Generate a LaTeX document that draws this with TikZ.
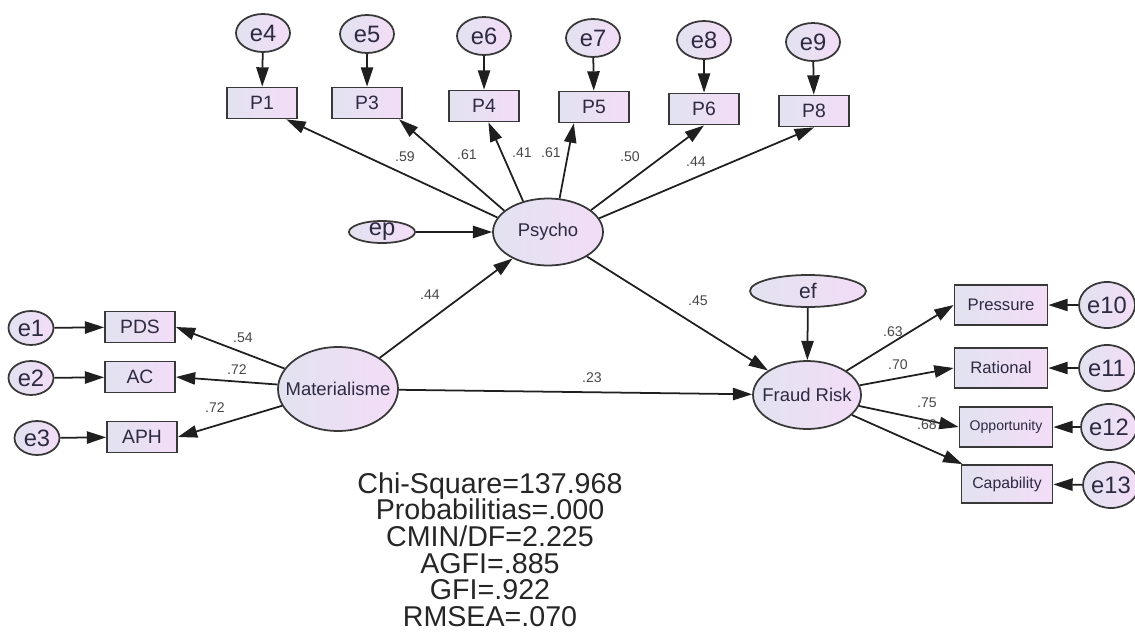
\documentclass[tikz,border=0pt]{standalone}
\usepackage{fontspec}
\newfontfamily\arial{Liberation Sans}
\usetikzlibrary{arrows.meta,shapes.geometric}
\definecolor{latL}{RGB}{226,226,240}
\definecolor{latR}{RGB}{243,221,247}
\definecolor{txt}{RGB}{45,42,65}
\begin{document}
\begin{tikzpicture}[x=0.02cm,y=-0.02cm,
  every node/.style={font=\arial},
  lat/.style={ellipse, draw=black!78, line width=1pt, left color=latL, right color=latR, inner sep=0pt},
  obs/.style={rectangle, draw=black!78, line width=1pt, left color=latL, right color=latR,
    minimum width=1.4cm, minimum height=0.62cm, inner sep=0pt, text=txt,
    font=\arial\fontsize{11}{12}\selectfont},
  obsr/.style={obs, minimum width=1.86cm, minimum height=0.8cm},
  err/.style={lat, minimum width=1.08cm, minimum height=0.76cm},
  errs/.style={lat, minimum width=0.9cm, minimum height=0.68cm},
  errr/.style={lat, minimum width=1.12cm, minimum height=0.92cm},
  etxt/.style={font=\arial\fontsize{13.5}{14}\selectfont, text=txt, inner sep=0pt},
  ltxt/.style={font=\arial\fontsize{10.5}{12}\selectfont, text=txt, inner sep=0pt},
  arr/.style={draw=black!88, line width=1pt, -{Triangle[length=11pt,width=7pt]}},
  coef/.style={font=\arial\fontsize{8}{9}\selectfont, text=black!72, inner sep=0pt},
]
\useasboundingbox (0,0) rectangle (1135,635);

% error terms top
\node[err, label={[etxt]center:e4}] (e4) at (263,33) {};
\node[err, label={[etxt]center:e5}] (e5) at (367,34) {};
\node[err, label={[etxt]center:e6}] (e6) at (484,36) {};
\node[err, label={[etxt]center:e7}] (e7) at (593,38) {};
\node[err, label={[etxt]center:e8}] (e8) at (704,40) {};
\node[err, label={[etxt]center:e9}] (e9) at (813,42) {};

% P indicators
\node[obs] (P1) at (262,103) {P1};
\node[obs] (P3) at (367,103) {P3};
\node[obs] (P4) at (484,106) {P4};
\node[obs] (P5) at (594,107) {P5};
\node[obs] (P6) at (704,109) {P6};
\node[obs] (P8) at (814,111) {P8};

% latent
\node[lat, minimum width=2.2cm, minimum height=1.34cm, label={[ltxt]center:Psycho}] (Psy) at (548,232) {};
\node[lat, minimum width=1.32cm, minimum height=0.44cm, label={[etxt]center:ep}] (ep) at (382,232) {};
\node[lat, minimum width=2.4cm, minimum height=1.68cm, label={[ltxt]center:Materialisme}] (Mat) at (338,389) {};
\node[lat, minimum width=2.16cm, minimum height=1.36cm, label={[ltxt]center:Fraud Risk}] (FR) at (807,395) {};
\node[lat, minimum width=2.32cm, minimum height=0.64cm, label={[font=\arial\fontsize{12}{13}\selectfont,text=txt]center:ef}] (ef) at (808,291) {};

% left indicators
\node[obs] (PDS) at (140,327) {PDS};
\node[obs] (AC) at (140,377) {AC};
\node[obs] (APH) at (142,437) {APH};
\node[errs, label={[etxt]center:e1}] (e1) at (31,328) {};
\node[errs, label={[etxt]center:e2}] (e2) at (31,378) {};
\node[errs, label={[etxt]center:e3}] (e3) at (37,438) {};

% right indicators
\node[obsr, font=\arial\fontsize{9.5}{11}\selectfont] (Pre) at (1001,305) {Pressure};
\node[obsr, font=\arial\fontsize{9.5}{11}\selectfont] (Rat) at (1001,368) {Rational};
\node[obsr, font=\arial\fontsize{8}{10}\selectfont] (Opp) at (1006,427) {Opportunity};
\node[obsr, minimum width=1.82cm, minimum height=0.76cm, font=\arial\fontsize{9}{10}\selectfont] (Cap) at (1007,484) {Capability};
\node[errr, label={[etxt]center:e10}] (e10) at (1107,305) {};
\node[errr, label={[etxt]center:e11}] (e11) at (1107,368) {};
\node[errr, label={[etxt]center:e12}] (e12) at (1109,427) {};
\node[errr, label={[etxt]center:e13}] (e13) at (1111,485) {};

% arrows
\foreach \e/\p in {e4/P1,e5/P3,e6/P4,e7/P5,e8/P6,e9/P8} \draw[arr] (\e) -- (\p);
\draw[arr] (Psy.164) -- (P1.-34);
\draw[arr] (Psy.154) -- (P3.-27);
\draw[arr] (Psy.129) -- (P4.-75);
\draw[arr] (Psy.71) -- (P5.-141);
\draw[arr] (Psy.27) -- (P6.south);
\draw[arr] (Psy.15) -- (P8.south);
\draw[arr] (ep) -- (Psy);
\draw[arr] (Mat) -- (Psy);
\draw[arr] (Psy) -- (FR);
\draw[arr] (Mat) -- (FR);
\draw[arr] (ef) -- (FR);
\draw[arr] (e1) -- (PDS);
\draw[arr] (e2) -- (AC);
\draw[arr] (e3) -- (APH);
\draw[arr] (Mat) -- (PDS.east);
\draw[arr] (Mat) -- (AC.east);
\draw[arr] (Mat) -- (APH.east);
\draw[arr] (FR) -- (Pre.west);
\draw[arr] (FR) -- (Rat.west);
\draw[arr] (FR) -- (Opp.west);
\draw[arr] (FR) -- (Cap);
\draw[arr] (e10) -- (Pre);
\draw[arr] (e11) -- (Rat);
\draw[arr] (e12) -- (Opp);
\draw[arr] (e13) -- (Cap);

% coefficients
\node[coef] (c1) at (405,157) {.59};
\node[coef] (c2) at (467,155) {.61};
\node[coef] (c3) at (522,153) {.41};
\node[coef] (c4) at (551,153) {.61};
\node[coef] (c5) at (630,157) {.50};
\node[coef] (c6) at (696,162) {.44};
\node[coef] (c7) at (430,295) {.44};
\node[coef] (c8) at (698,301) {.45};
\node[coef] (c9) at (592,378) {.23};
\node[coef] (c10) at (243,338) {.54};
\node[coef] (c11) at (237,370) {.72};
\node[coef] (c12) at (215,408) {.72};
\node[coef] (c13) at (893,332) {.63};
\node[coef] (c14) at (898,365) {.70};
\node[coef] (c15) at (927,403) {.75};
\node[coef] (c16) at (927,425) {.68};

% fit statistics
\node[anchor=north, align=center, inner sep=0pt, text=black!85,
  font=\arial\fontsize{16.3}{15.2}\selectfont] (fit) at (490,472)
  {Chi-Square=137.968\\Probabilitias=.000\\CMIN/DF=2.225\\AGFI=.885\\GFI=.922\\RMSEA=.070};
\end{tikzpicture}
\end{document}
